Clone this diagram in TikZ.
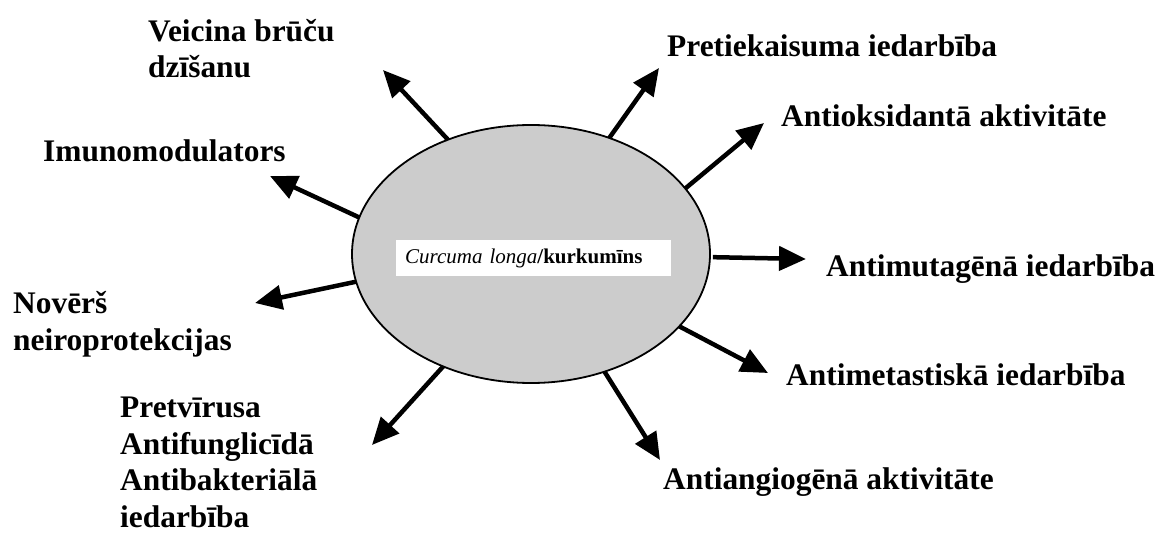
\documentclass[tikz,border=0pt]{standalone}
\usepackage{fontspec}
\setmainfont{Liberation Serif}
\usetikzlibrary{arrows.meta,shapes.geometric}

\begin{document}
\begin{tikzpicture}[x=1pt, y=-1pt,
    lbl/.style={anchor=base west, inner sep=0pt, align=left, font=\fontsize{31.4}{36.5}\selectfont\bfseries},
    arrow/.style={-{Triangle[length=27pt, width=24pt]}, line width=4.5pt},
    core/.style={draw, ellipse, line width=1.8pt, fill=black!20, minimum width=358pt, minimum height=258pt, inner sep=0pt, outer sep=0pt}
]
\useasboundingbox (0,0) rectangle (1161,534);

% ===== Centre =====
\node[core] (cur) at (531,254) {};
\node[fill=white, anchor=west, text width=257pt, align=left, inner xsep=9pt, minimum height=36pt, font=\fontsize{21}{24}\selectfont] (name) at (396,258) {\textit{Curcuma longa}\textbf{/kurkumīns}};

% ===== Effects (multi-line nodes sit on their last line) =====
\node[lbl] (heal) at (148,78) {Veicina brūču\\dzīšanu};
\node[lbl] (immu) at (43,162) {Imunomodulators};
\node[lbl] (neur) at (13,350) {Novērš\\neiroprotekcijas};
\node[lbl] (micr) at (120,527) {Pretvīrusa\\Antifunglicīdā\\Antibakteriālā\\iedarbība};
\node[lbl] (infl) at (667,57) {Pretiekaisuma iedarbība};
\node[lbl] (oxid) at (781,127) {Antioksidantā aktivitāte};
\node[lbl] (muta) at (826,277) {Antimutagēnā iedarbība};
\node[lbl] (meta) at (786,385) {Antimetastiskā iedarbība};
\node[lbl] (angi) at (663,489) {Antiangiogēnā aktivitāte};

% ===== Arrow tips =====
\coordinate (heal-tip) at (383,70);
\coordinate (immu-tip) at (270,176);
\coordinate (neur-tip) at (255,303);
\coordinate (micr-tip) at (372,445);
\coordinate (infl-tip) at (659,68);
\coordinate (oxid-tip) at (764,123);
\coordinate (muta-tip) at (806,259);
\coordinate (meta-tip) at (768,373);
\coordinate (angi-tip) at (660,460);

% ===== Arrows =====
\draw[arrow] (cur.126.5) -- (heal-tip);
\draw[arrow] (cur.168.6) -- (immu-tip);
\draw[arrow] (cur.189) -- (neur-tip);
\draw[arrow] (cur.232.8) -- (micr-tip);
\draw[arrow] (cur.56) -- (infl-tip);
\draw[arrow] (cur.23.9) -- (oxid-tip);
\draw[arrow, shorten <=3pt] (cur.-1.6) -- (muta-tip);
\draw[arrow] (cur.-26.1) -- (meta-tip);
\draw[arrow] (cur.-58.5) -- (angi-tip);

\end{tikzpicture}
\end{document}
